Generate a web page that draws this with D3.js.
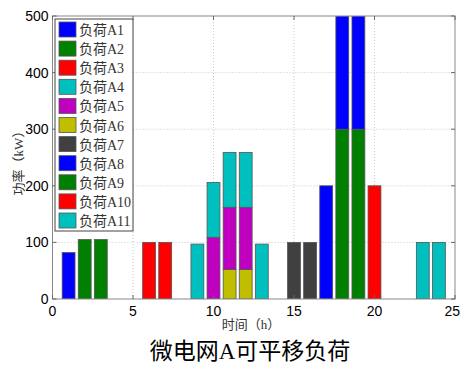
<!DOCTYPE html>
<html>
<head>
<meta charset="utf-8">
<style>
  body { margin: 0; background: #fff; }
  svg { display: block; }
</style>
</head>
<body>
<svg></svg>
<script src="https://d3js.org/d3.v7.min.js"></script>
<script>
const width = 461;
const height = 365;
const margin = {left: 52.5, right: 6, top: 16, bottom: 66};

// load names and colours (legend order)
const loads = ['负荷A1', '负荷A2', '负荷A3', '负荷A4', '负荷A5', '负荷A6',
               '负荷A7', '负荷A8', '负荷A9', '负荷A10', '负荷A11'];
const colors = ['#0000ff', '#007f00', '#ff0000', '#00bfbf', '#bf00bf', '#bfbf00',
                '#404040', '#0000ff', '#007f00', '#ff0000', '#00bfbf'];

// power of each load per hour [hour, kW]
const A1 = [[1, 82]];
const A2 = [[2, 105], [3, 105]];
const A3 = [[6, 100], [7, 100]];
const A4 = [[9, 97], [10, 97], [11, 97], [12, 97], [13, 97]];
const A5 = [[10, 109], [11, 110], [12, 110]];
const A6 = [[11, 52], [12, 52]];
const A7 = [[15, 100], [16, 100]];
const A8 = [[17, 200], [18, 200], [19, 200]];
const A9 = [[18, 300], [19, 300]];
const A10 = [[20, 200]];
const A11 = [[23, 100], [24, 100]];
const series = [A1, A2, A3, A4, A5, A6, A7, A8, A9, A10, A11];

// bottom-to-top order used when loads share an hour
const stackOrder = [0, 1, 2, 5, 4, 3, 6, 8, 7, 9, 10];

const xTicks = [0, 5, 10, 15, 20, 25];
const yTicks = [0, 100, 200, 300, 400, 500];

const svg = d3.select('svg').attr('width', width).attr('height', height);

const x = d3.scaleLinear().domain([0, 25]).range([margin.left, width - margin.right]);
const y = d3.scaleLinear().domain([0, 500]).range([height - margin.bottom, margin.top]);

const plotW = x(25) - x(0);
const plotH = y(0) - y(500);

// grid
const grid = svg.append('g');
grid.selectAll('.gx').data(xTicks.slice(1, -1)).enter().append('line')
    .attr('x1', d => x(d)).attr('x2', d => x(d))
    .attr('y1', y(0)).attr('y2', y(500))
    .style('stroke', '#c8c8c8').style('stroke-dasharray', '1,2');
grid.selectAll('.gy').data(yTicks.slice(1, -1)).enter().append('line')
    .attr('x1', x(0)).attr('x2', x(25))
    .attr('y1', d => y(d)).attr('y2', d => y(d))
    .style('stroke', '#c8c8c8').style('stroke-dasharray', '1,2');

// build stacked segments
const base = {};
const segs = [];
stackOrder.forEach(i => {
    series[i].forEach(([h, v]) => {
        const b = base[h] || 0;
        segs.push({load: i, hour: h, y0: b, y1: b + v});
        base[h] = b + v;
    });
});

const barW = 0.8;
svg.append('defs').append('clipPath').attr('id', 'clip')
    .append('rect').attr('x', x(0)).attr('y', y(500)).attr('width', plotW).attr('height', plotH);

svg.append('g').attr('clip-path', 'url(#clip)')
    .selectAll('rect').data(segs).enter().append('rect')
    .attr('x', d => x(d.hour - barW / 2))
    .attr('width', x(barW) - x(0))
    .attr('y', d => y(d.y1))
    .attr('height', d => y(d.y0) - y(d.y1))
    .style('fill', d => colors[d.load])
    .style('stroke', '#555')
    .style('stroke-width', 0.8);

// axes box
svg.append('rect')
    .attr('x', x(0)).attr('y', y(500)).attr('width', plotW).attr('height', plotH)
    .style('fill', 'none').style('stroke', '#888').style('stroke-width', 1);

// ticks (inward, both sides)
const tk = svg.append('g').style('stroke', '#666');
xTicks.forEach(t => {
    tk.append('line').attr('x1', x(t)).attr('x2', x(t)).attr('y1', y(0)).attr('y2', y(0) - 4);
    tk.append('line').attr('x1', x(t)).attr('x2', x(t)).attr('y1', y(500)).attr('y2', y(500) + 4);
});
yTicks.forEach(t => {
    tk.append('line').attr('x1', x(0)).attr('x2', x(0) + 4).attr('y1', y(t)).attr('y2', y(t));
    tk.append('line').attr('x1', x(25)).attr('x2', x(25) - 4).attr('y1', y(t)).attr('y2', y(t));
});

// tick labels
svg.append('g').selectAll('text').data(xTicks).enter().append('text')
    .attr('x', d => d === 25 ? width - 1 : x(d)).attr('y', y(0) + 17)
    .attr('text-anchor', d => d === 25 ? 'end' : 'middle')
    .style('font', '14px "Liberation Sans", Arial, sans-serif')
    .text(d => d);
svg.append('g').selectAll('text').data(yTicks).enter().append('text')
    .attr('x', x(0) - 4).attr('y', d => y(d) + 5)
    .attr('text-anchor', 'end')
    .style('font', '14px "Liberation Sans", Arial, sans-serif')
    .text(d => d);

// axis labels
svg.append('text')
    .attr('x', 251).attr('y', 329)
    .attr('text-anchor', 'middle')
    .style('font', '13px "Liberation Serif", "Noto Sans CJK SC", serif')
    .style('fill', '#333')
    .text('时间（h）');
svg.append('text')
    .attr('transform', 'translate(23,160) rotate(-90)')
    .attr('text-anchor', 'middle')
    .style('font', '13px "Liberation Serif", "Noto Sans CJK SC", serif')
    .style('fill', '#333')
    .text('功率（kW）');

// title
svg.append('text')
    .attr('x', 250).attr('y', 359)
    .attr('text-anchor', 'middle')
    .style('font', '23px "Liberation Serif", "Noto Sans CJK SC", serif')
    .text('微电网A可平移负荷');

// legend
const lg = svg.append('g');
lg.append('rect')
    .attr('x', 55).attr('y', 19).attr('width', 78).attr('height', 212)
    .style('fill', '#fff').style('stroke', '#444').style('stroke-width', 1);
const item = lg.selectAll('.item').data(loads).enter().append('g')
    .attr('transform', (d, i) => `translate(0, ${22 + i * 19.1})`);
item.append('rect')
    .attr('x', 59).attr('y', 0).attr('width', 17).attr('height', 15)
    .style('fill', (d, i) => colors[i])
    .style('stroke', '#555').style('stroke-width', 0.8);
item.append('text')
    .attr('x', 79).attr('y', 13)
    .style('font', '14px "Liberation Serif", "Noto Sans CJK SC", serif')
    .style('fill', '#333')
    .text(d => d);
</script>
</body>
</html>
